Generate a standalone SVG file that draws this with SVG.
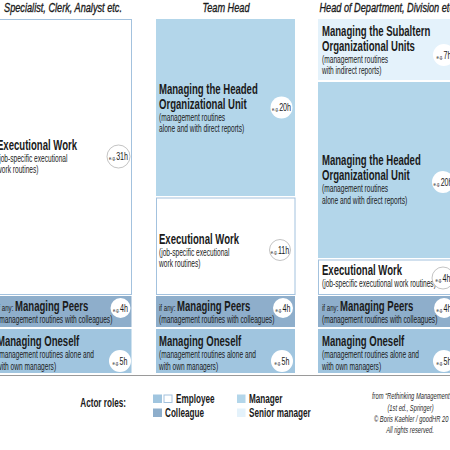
<svg xmlns="http://www.w3.org/2000/svg" width="450" height="450" viewBox="0 0 450 450">
<style>
text{font-family:"Liberation Sans",Arial,sans-serif;fill:#1a1a1a}
.h{font-size:13.5px;font-style:italic;stroke:#1a1a1a;stroke-width:.35}
.b{font-size:14.5px;font-weight:bold}
.s{font-size:10.5px}
.xs{font-size:9.3px}
.emp{fill:#fff;stroke:#a3c2de;stroke-width:1}
.mgr{fill:#b3d6ea}
.sen{fill:#e4f2fb}
.col{fill:#8eaecb}
.own{fill:#a0c5df}
.c{fill:#fff}
.cs{fill:#fff;stroke:#9a9a9a;stroke-width:.6}
.eg{font-size:6px}
.n{font-size:10.5px}
.lg{font-size:12px;font-weight:bold}
.cp{font-size:8.5px;font-style:italic;fill:#2a2a2a}
</style>
<rect width="450" height="450" fill="#fff"/>
<g id="headers">
<text class="h" text-anchor="middle" transform="translate(63,12) scale(.68,1)">Specialist, Clerk, Analyst etc.</text>
<text class="h" text-anchor="middle" transform="translate(226,12) scale(.68,1)">Team Head</text>
<text class="h" text-anchor="middle" transform="translate(388,12) scale(.68,1)">Head of Department, Division etc.</text>
</g>
<g id="col1-exec">
<rect class="emp" x="-6" y="19.5" width="137.5" height="275"/>
<text class="b" transform="translate(-3,150) scale(.66,1)">Executional Work</text>
<text class="s" transform="translate(-3,162) scale(.63,1)">(job-specific executional</text>
<text class="s" transform="translate(-3,173) scale(.63,1)">work routines)</text>
<circle class="cs" cx="118.5" cy="156.5" r="11.5"/>
<text text-anchor="middle" transform="translate(118.5,160) scale(.68,1)"><tspan class="eg">e.g.</tspan><tspan class="n" dx="0.5">31h</tspan></text>
</g>
<g id="col1-peers">
<rect class="col" x="-6" y="296" width="137.5" height="31"/>
<text transform="translate(-3,311) scale(.66,1)"><tspan class="xs">if any: </tspan><tspan class="b">Managing Peers</tspan></text>
<text class="s" transform="translate(-3,323) scale(.63,1)">(management routines with colleagues)</text>
<circle class="c" cx="120.5" cy="308" r="10"/>
<text text-anchor="middle" transform="translate(120.5,311.5) scale(.68,1)"><tspan class="eg">e.g.</tspan><tspan class="n" dx="0.5">4h</tspan></text>
</g>
<g id="col1-oneself">
<rect class="own" x="-6" y="329" width="137.5" height="44"/>
<text class="b" transform="translate(-3,346) scale(.66,1)">Managing Oneself</text>
<text class="s" transform="translate(-3,358) scale(.63,1)">(management routines alone and</text>
<text class="s" transform="translate(-3,370) scale(.63,1)">with own managers)</text>
<circle class="c" cx="120" cy="361" r="11"/>
<text text-anchor="middle" transform="translate(120,364.5) scale(.68,1)"><tspan class="eg">e.g.</tspan><tspan class="n" dx="0.5">5h</tspan></text>
</g>
<g id="col2-headed">
<rect class="mgr" x="156" y="19" width="139" height="177"/>
<text class="b" transform="translate(159,94) scale(.66,1)">Managing the Headed</text>
<text class="b" transform="translate(159,108.5) scale(.66,1)">Organizational Unit</text>
<text class="s" transform="translate(159,120.5) scale(.63,1)">(management routines</text>
<text class="s" transform="translate(159,131.5) scale(.63,1)">alone and with direct reports)</text>
<circle class="c" cx="281.5" cy="107.5" r="11"/>
<text text-anchor="middle" transform="translate(281.5,111) scale(.68,1)"><tspan class="eg">e.g.</tspan><tspan class="n" dx="0.5">20h</tspan></text>
</g>
<g id="col2-exec">
<rect class="emp" x="156.5" y="198" width="138.5" height="96.5"/>
<text class="b" transform="translate(159,244) scale(.66,1)">Executional Work</text>
<text class="s" transform="translate(159,256) scale(.63,1)">(job-specific executional</text>
<text class="s" transform="translate(159,267) scale(.63,1)">work routines)</text>
<circle class="cs" cx="280" cy="250" r="10.5"/>
<text text-anchor="middle" transform="translate(280,253.5) scale(.68,1)"><tspan class="eg">e.g.</tspan><tspan class="n" dx="0.5">11h</tspan></text>
</g>
<g id="col2-peers">
<rect class="col" x="156" y="296" width="139" height="31"/>
<text transform="translate(159,311) scale(.66,1)"><tspan class="xs">if any: </tspan><tspan class="b">Managing Peers</tspan></text>
<text class="s" transform="translate(159,323) scale(.63,1)">(management routines with colleagues)</text>
<circle class="c" cx="283" cy="308" r="10"/>
<text text-anchor="middle" transform="translate(283,311.5) scale(.68,1)"><tspan class="eg">e.g.</tspan><tspan class="n" dx="0.5">4h</tspan></text>
</g>
<g id="col2-oneself">
<rect class="own" x="156" y="329" width="139" height="44"/>
<text class="b" transform="translate(159,346) scale(.66,1)">Managing Oneself</text>
<text class="s" transform="translate(159,358) scale(.63,1)">(management routines alone and</text>
<text class="s" transform="translate(159,370) scale(.63,1)">with own managers)</text>
<circle class="c" cx="282" cy="361" r="11"/>
<text text-anchor="middle" transform="translate(282,364.5) scale(.68,1)"><tspan class="eg">e.g.</tspan><tspan class="n" dx="0.5">5h</tspan></text>
</g>
<g id="col3-subaltern">
<rect class="sen" x="318" y="19" width="140" height="61"/>
<text class="b" transform="translate(322,36) scale(.66,1)">Managing the Subaltern</text>
<text class="b" transform="translate(322,50.5) scale(.66,1)">Organizational Units</text>
<text class="s" transform="translate(322,63) scale(.63,1)">(management routines</text>
<text class="s" transform="translate(322,74) scale(.63,1)">with indirect reports)</text>
<circle class="c" cx="444" cy="55" r="11"/>
<text text-anchor="middle" transform="translate(444,58.5) scale(.68,1)"><tspan class="eg">e.g.</tspan><tspan class="n" dx="0.5">7h</tspan></text>
</g>
<g id="col3-headed">
<rect class="mgr" x="318" y="82" width="140" height="176"/>
<text class="b" transform="translate(322,165) scale(.66,1)">Managing the Headed</text>
<text class="b" transform="translate(322,179.5) scale(.66,1)">Organizational Unit</text>
<text class="s" transform="translate(322,192) scale(.63,1)">(management routines</text>
<text class="s" transform="translate(322,203.5) scale(.63,1)">alone and with direct reports)</text>
<circle class="c" cx="443" cy="182" r="11"/>
<text text-anchor="middle" transform="translate(443,185.5) scale(.68,1)"><tspan class="eg">e.g.</tspan><tspan class="n" dx="0.5">20h</tspan></text>
</g>
<g id="col3-exec">
<rect class="emp" x="318.5" y="260" width="140" height="34.5"/>
<text class="b" transform="translate(322,275) scale(.66,1)">Executional Work</text>
<text class="s" transform="translate(322,287) scale(.63,1)">(job-specific executional work routines)</text>
<circle class="cs" cx="443" cy="278" r="11"/>
<text text-anchor="middle" transform="translate(443,281.5) scale(.68,1)"><tspan class="eg">e.g.</tspan><tspan class="n" dx="0.5">4h</tspan></text>
</g>
<g id="col3-peers">
<rect class="col" x="318" y="296" width="140" height="31"/>
<text transform="translate(322,311) scale(.66,1)"><tspan class="xs">if any: </tspan><tspan class="b">Managing Peers</tspan></text>
<text class="s" transform="translate(322,323) scale(.63,1)">(management routines with colleagues)</text>
<circle class="c" cx="444" cy="308" r="10"/>
<text text-anchor="middle" transform="translate(444,311.5) scale(.68,1)"><tspan class="eg">e.g.</tspan><tspan class="n" dx="0.5">4h</tspan></text>
</g>
<g id="col3-oneself">
<rect class="own" x="318" y="329" width="140" height="44"/>
<text class="b" transform="translate(322,346) scale(.66,1)">Managing Oneself</text>
<text class="s" transform="translate(322,358) scale(.63,1)">(management routines alone and</text>
<text class="s" transform="translate(322,370) scale(.63,1)">with own managers)</text>
<circle class="c" cx="444" cy="361" r="11"/>
<text text-anchor="middle" transform="translate(444,364.5) scale(.68,1)"><tspan class="eg">e.g.</tspan><tspan class="n" dx="0.5">5h</tspan></text>
</g>
<g id="connectors"></g>
<line x1="0" y1="375.5" x2="450" y2="375.5" stroke="#9a9a9a" stroke-width="1.2"/>
<g id="legend">
<text class="lg" text-anchor="end" transform="translate(126,407) scale(.68,1)">Actor roles:</text>
<rect class="own" x="153" y="394.5" width="9" height="8.5"/>
<rect class="emp" x="164" y="395" width="8" height="7.5"/>
<text class="lg" transform="translate(176,403) scale(.68,1)">Employee</text>
<rect class="col" x="153" y="408.5" width="9" height="8.5"/>
<text class="lg" transform="translate(165,417) scale(.68,1)">Colleague</text>
<rect class="mgr" x="237" y="394.5" width="8.5" height="8.5"/>
<text class="lg" transform="translate(249,403) scale(.68,1)">Manager</text>
<rect class="sen" x="237" y="408.5" width="8.5" height="8.5"/>
<text class="lg" transform="translate(249,417) scale(.68,1)">Senior manager</text>
</g>
<g id="credits">
<text class="cp" transform="translate(372,399) scale(.68,1)">from “Rethinking Management”</text>
<text class="cp" text-anchor="middle" transform="translate(410.5,411) scale(.68,1)">(1st ed., Springer)</text>
<text class="cp" transform="translate(374,422) scale(.68,1)">© Boris Kaehler / goodHR 20</text>
<text class="cp" text-anchor="middle" transform="translate(410,433) scale(.68,1)">All rights reserved.</text>
</g>
</svg>
